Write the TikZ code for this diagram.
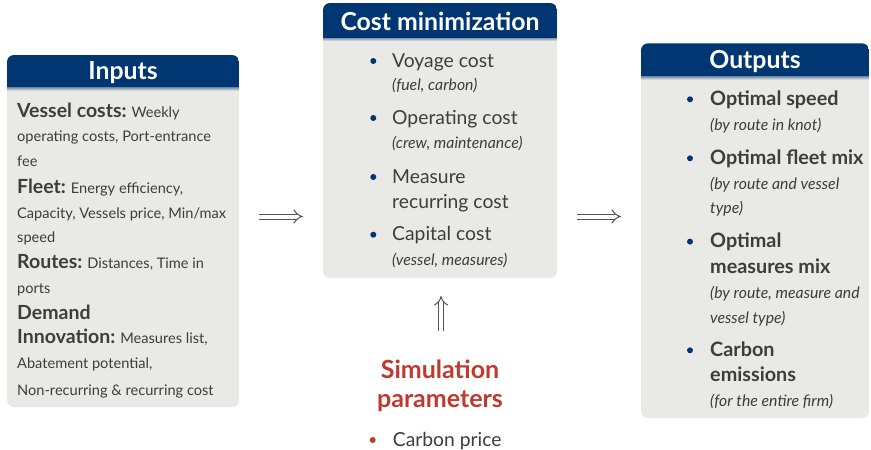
\documentclass[tikz,border=0pt]{standalone}
\usepackage{fontspec}
\setmainfont{Lato}
\usetikzlibrary{arrows.meta}
\definecolor{navy}{HTML}{003671}
\definecolor{boxgrey}{HTML}{E9E9E5}
\definecolor{txtgrey}{HTML}{3D3D3D}
\definecolor{simred}{HTML}{C0392F}
\definecolor{arrgrey}{HTML}{555555}
\newcommand{\fsR}{\fontsize{14.6}{17}\selectfont}
\newcommand{\fsB}{\bfseries\fontsize{19.5}{22}\selectfont}
\newcommand{\panelbox}[5]{%
  \fill[boxgrey,rounded corners=7pt] (#1,#2) rectangle (#3,#4);
  \begin{scope}
    \clip[rounded corners=7pt] (#1,#2) rectangle (#3,#4);
    \fill[navy] (#1,#2) rectangle (#3,#5);
    \shade[top color=navy!45!boxgrey, bottom color=boxgrey] (#1,#5) rectangle (#3,#5+3);
  \end{scope}}
\begin{document}
\begin{tikzpicture}[x=1pt,y=-1pt,
  ttl/.style={anchor=base,text=white,font=\bfseries\fontsize{24.8}{28}\selectfont,inner sep=0pt},
  tx/.style={anchor=base west,inner sep=0pt,text=txtgrey},
  intx/.style={tx,font=\fsR},
  big/.style={tx,font=\fontsize{19.3}{22}\selectfont},
  bigb/.style={tx,font=\bfseries\fontsize{19.8}{22}\selectfont},
  note/.style={tx,font=\itshape\fontsize{15.8}{18}\selectfont},
  dot/.style={circle,fill=navy,inner sep=0pt,minimum size=6pt},
  dbl/.style={draw=arrgrey,double=white,double distance=4pt,line width=1pt,-{Implies}},
  simt/.style={anchor=base,text=simred,font=\bfseries\fontsize{25}{28}\selectfont,inner sep=0pt},
]
\useasboundingbox (0,0) rectangle (871,450);

% ---------- Inputs ----------
\panelbox{7}{55}{239}{407}{87.7}
\node[ttl] (tin) at (123,79.3) {Inputs};
\node[intx] (i1) at (17,117) {{\fsB Vessel costs:} Weekly};
\node[intx] (i2) at (17,141.7) {operating costs, Port-entrance};
\node[intx] (i3) at (17,166.7) {fee};
\node[intx] (i4) at (17,193) {{\fsB Fleet:} Energy efficiency,};
\node[intx] (i5) at (17,218) {Capacity, Vessels price, Min/max};
\node[intx] (i6) at (17,242.7) {speed};
\node[intx] (i7) at (17,268) {{\fsB Routes:} Distances, Time in};
\node[intx] (i8) at (17,293) {ports};
\node[intx] (i9) at (17,319) {{\fsB Demand}};
\node[intx] (i10) at (17,343) {{\fsB Innovation:} Measures list,};
\node[intx] (i11) at (17,368) {Abatement potential,};
\node[intx] (i12) at (17,395) {Non-recurring \& recurring cost};

% ---------- Cost minimization ----------
\panelbox{323}{3}{557}{278}{38}
\node[ttl] (tcost) at (440,30) {Cost minimization};
\node[dot] (cd1) at (373.3,61) {};
\node[big] (c1) at (392,67) {Voyage cost};
\node[note] (c2) at (392,90.7) {(fuel, carbon)};
\node[dot] (cd2) at (373.3,118) {};
\node[big] (c3) at (392,124) {Operating cost};
\node[note] (c4) at (392,148) {(crew, maintenance)};
\node[dot] (cd3) at (373.3,177) {};
\node[big] (c5) at (392,183) {Measure};
\node[big] (c6) at (392,208) {recurring cost};
\node[dot] (cd4) at (373.3,234.7) {};
\node[big] (c7) at (392,240.7) {Capital cost};
\node[note] (c8) at (392,265) {(vessel, measures)};

% ---------- Outputs ----------
\panelbox{641}{43.3}{869}{418}{76.7}
\node[ttl] (tout) at (755,68.5) {Outputs};
\node[dot] (od1) at (690,99.3) {};
\node[bigb] (o1) at (710,105) {Optimal speed};
\node[note] (o2) at (710,130) {(by route in knot)};
\node[dot] (od2) at (690,158.3) {};
\node[bigb] (o3) at (710,164) {Optimal fleet mix};
\node[note] (o4) at (710,189) {(by route and vessel};
\node[note] (o5) at (710,213) {type)};
\node[dot] (od3) at (690,241.6) {};
\node[bigb] (o6) at (710,247.3) {Optimal};
\node[bigb] (o7) at (710,273.3) {measures mix};
\node[note] (o8) at (710,298.3) {(by route, measure and};
\node[note] (o9) at (710,323.3) {vessel type)};
\node[dot] (od4) at (690,350.3) {};
\node[bigb] (o10) at (710,356) {Carbon};
\node[bigb] (o11) at (710,381.7) {emissions};
\node[note] (o12) at (710,406.7) {(for the entire firm)};

% ---------- Simulation parameters ----------
\node[simt] (s1) at (440,378.3) {Simulation};
\node[simt] (s2) at (440,407) {parameters};
\node[dot,fill=simred] (sd) at (372.7,440) {};
\node[big] (s3) at (392.7,446) {Carbon price};

% ---------- Arrows ----------
\coordinate (a1s) at (259,216.5);
\coordinate (a1e) at (303,216.5);
\coordinate (a2s) at (577,216.5);
\coordinate (a2e) at (621,216.5);
\coordinate (a3s) at (441,331);
\coordinate (a3e) at (441,296);
\draw[dbl] (a1s) -- (a1e);
\draw[dbl] (a2s) -- (a2e);
\draw[dbl] (a3s) -- (a3e);
\end{tikzpicture}
\end{document}
